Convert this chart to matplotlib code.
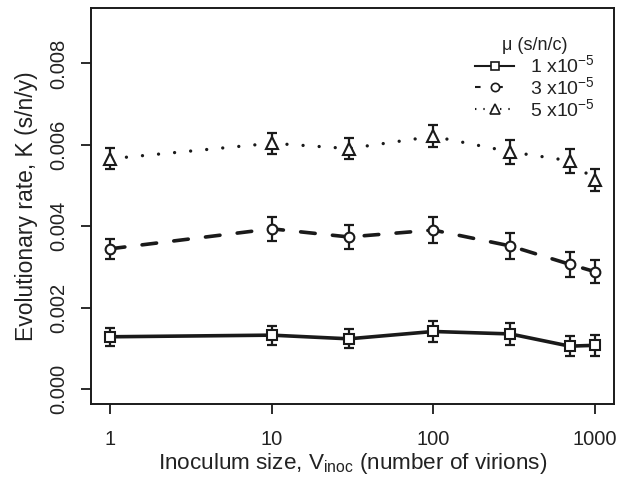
import matplotlib
matplotlib.use("Agg")
import matplotlib.pyplot as plt
from matplotlib.lines import Line2D

plt.rcParams['font.family'] = ['Liberation Sans', 'DejaVu Sans']
plt.rcParams['mathtext.fontset'] = 'custom'
plt.rcParams['mathtext.rm'] = 'Liberation Sans'
plt.rcParams['mathtext.it'] = 'Liberation Sans:italic'
plt.rcParams['lines.scale_dashes'] = False

# data
inoculum = [1, 10, 30, 100, 300, 700, 1000]
rate_mu1 = [0.00129, 0.00133, 0.00124, 0.00142, 0.00136, 0.00106, 0.00108]
err_mu1 = [0.00022, 0.00023, 0.00023, 0.00026, 0.00026, 0.00024, 0.00026]
rate_mu3 = [0.00345, 0.00394, 0.00374, 0.00391, 0.00352, 0.00307, 0.00289]
err_mu3 = [0.00025, 0.00030, 0.00030, 0.00032, 0.00031, 0.00031, 0.00029]
rate_mu5 = [0.00566, 0.00604, 0.00591, 0.00621, 0.00583, 0.00561, 0.00515]
err_mu5 = [0.00026, 0.00026, 0.00026, 0.00027, 0.00029, 0.00030, 0.00027]
series_labels = [r"1 x10$^{-5}$", r"3 x10$^{-5}$", r"5 x10$^{-5}$"]
legend_title = "\u03bc (s/n/c)"
xticks = [1, 10, 100, 1000]
xtick_labels = ["1", "10", "100", "1000"]
yticks = [0.000, 0.002, 0.004, 0.006, 0.008]
ytick_labels = ["0.000", "0.002", "0.004", "0.006", "0.008"]

W, H = 617, 479
fig = plt.figure(figsize=(W / 100, H / 100), dpi=100)
ax = fig.add_axes([91 / W, 1 - 404 / H, (614 - 91) / W, (404 - 8) / H])

lw = 2.6
styles = [
    dict(marker='s', ms=7.0, ls='-', dashes=None),
    dict(marker='o', ms=7.0, ls='--', dashes=(10.5, 12.5)),
    dict(marker='^', ms=8.0, ls=':', dashes=(0.01, 11.6)),
]
data = [(rate_mu1, err_mu1), (rate_mu3, err_mu3), (rate_mu5, err_mu5)]
handles = []
for (y, e), st, lab in zip(data, styles, series_labels):
    kw = dict(color='#1a1a1a', lw=lw if st['ls'] != ':' else 2.4,
              solid_capstyle='round', dash_capstyle='round', zorder=2)
    line, = ax.plot(inoculum, y, **kw)
    if st['dashes'] is not None:
        line.set_dashes(st['dashes'])
    ax.errorbar(inoculum, y, yerr=e, fmt='none', ecolor='#1a1a1a',
                elinewidth=1.6, capsize=3.5, capthick=1.6, zorder=3)
    ax.plot(inoculum, y, ls='none', marker=st['marker'], ms=st['ms'],
            mfc='white', mec='#1a1a1a', mew=1.5, zorder=4)
    h = Line2D([0], [0], color='#1a1a1a', lw=1.5, marker=st['marker'],
               ms=st['ms'] * 0.85, mfc='white', mec='#1a1a1a', mew=1.2)
    if st['ls'] == '--':
        h.set_dashes((4, 12))
    elif st['ls'] == ':':
        h.set_dashes((1, 5))
    handles.append(h)

ax.set_xscale('log')
ax.set_xlim(10 ** -0.12, 10 ** 3.12)
ax.set_ylim(-0.00036, 0.00936)
ax.set_xticks(xticks)
ax.set_xticklabels(xtick_labels)
ax.minorticks_off()
ax.set_yticks(yticks)
ax.set_yticklabels(ytick_labels, rotation=90, va='center')

ax.tick_params(axis='both', direction='out', length=7.5, width=1.3,
               color='#1a1a1a', labelsize=14.5, labelcolor='#222222')
ax.tick_params(axis='x', pad=11)
ax.tick_params(axis='y', pad=9)
for sp in ax.spines.values():
    sp.set_linewidth(1.4)
    sp.set_color('#1a1a1a')

ax.set_xlabel(r"Inoculum size, V$_{\rm inoc}$ (number of virions)",
              fontsize=16.2, color='#222222', labelpad=2)
ax.set_ylabel("Evolutionary rate, K (s/n/y)", fontsize=16.5,
              color='#222222', labelpad=8)

leg = ax.legend(handles, series_labels, title=legend_title, frameon=False,
                loc='upper right', bbox_to_anchor=(0.985, 0.955),
                fontsize=14, title_fontsize=13, handlelength=2.0,
                handletextpad=0.8, labelspacing=0.0, borderaxespad=0.2)
for t in leg.get_texts():
    t.set_color('#222222')
leg.get_title().set_color('#222222')

fig.savefig("out.png", dpi=100)
